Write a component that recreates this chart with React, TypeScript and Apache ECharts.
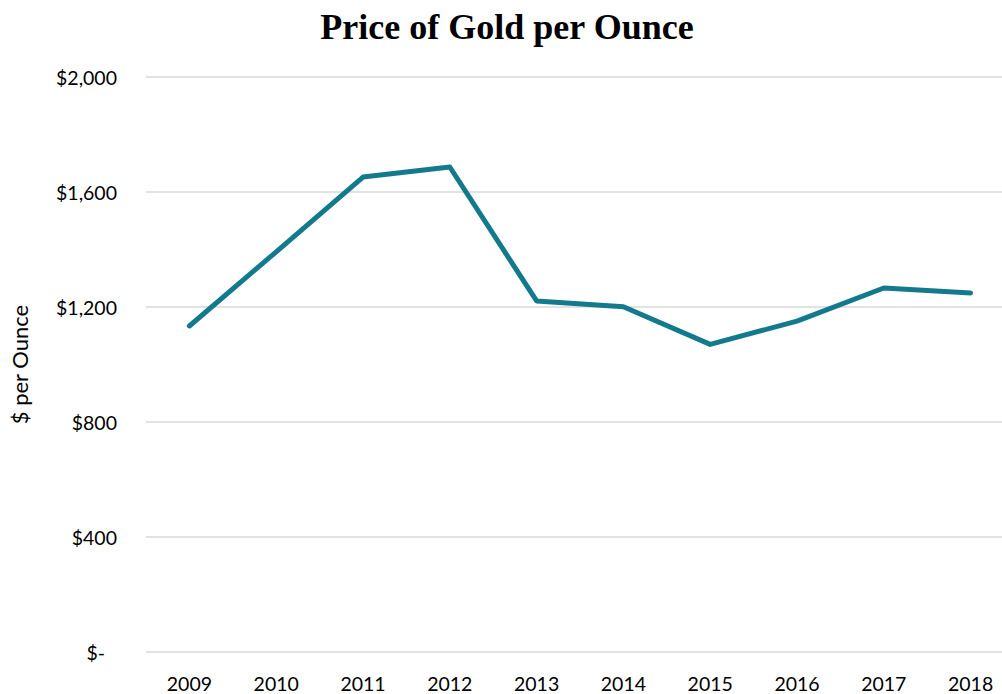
import React, { useEffect, useRef } from "react";
import * as echarts from "echarts";

const years = ["2009", "2010", "2011", "2012", "2013", "2014", "2015", "2016", "2017", "2018"];
const prices = [1134, 1392, 1652, 1687, 1221, 1201, 1070, 1151, 1266, 1249];
const yTicks = [0, 400, 800, 1200, 1600, 2000];

export default function App() {
  const ref = useRef<HTMLDivElement>(null);
  useEffect(() => {
    if (!ref.current) return;
    const chart = echarts.init(ref.current, null, { renderer: "svg" });
    const labelFont = "Lato, 'Open Sans', sans-serif";
    chart.setOption({
      animation: false,
      backgroundColor: "#ffffff",
      title: {
        text: "Price of Gold per Ounce",
        left: "center",
        top: 4,
        textStyle: {
          fontFamily: "'Liberation Serif', 'DejaVu Serif', serif",
          fontWeight: "bold",
          fontSize: 36,
          color: "#000000",
        },
      },
      grid: { left: 146, right: 0, top: 77, bottom: 42, containLabel: false },
      xAxis: {
        type: "category",
        data: years,
        boundaryGap: true,
        axisLine: { show: false },
        axisTick: { show: false },
        axisLabel: { fontFamily: labelFont, fontSize: 19.5, color: "#000", margin: 21 },
      },
      yAxis: {
        type: "value",
        min: yTicks[0],
        max: yTicks[yTicks.length - 1],
        interval: 400,
        name: "$ per Ounce",
        nameLocation: "middle",
        nameGap: 116,
        nameRotate: 90,
        nameTextStyle: { fontFamily: labelFont, fontSize: 22, color: "#000" },
        axisLine: { show: false },
        axisTick: { show: false },
        splitLine: { lineStyle: { color: "#d9d9d9", width: 1.5 } },
        axisLabel: {
          fontFamily: labelFont,
          fontSize: 19.5,
          color: "#000",
          margin: 29,
          formatter: (v: number) => (v === 0 ? "{z|$-}" : "$" + v.toLocaleString("en-US")),
          rich: {
            z: { fontFamily: labelFont, fontSize: 19.5, color: "#000", padding: [0, 12, 0, 0] },
          },
        },
      },
      series: [
        {
          type: "line",
          data: prices,
          symbol: "none",
          lineStyle: { color: "#137a8e", width: 5, cap: "round", join: "round" },
        },
      ],
    });
    return () => chart.dispose();
  }, []);
  return (
    <div
      ref={ref}
      style={{ position: "fixed", left: 0, top: 0, width: 1014, height: 694, background: "#fff" }}
    />
  );
}
